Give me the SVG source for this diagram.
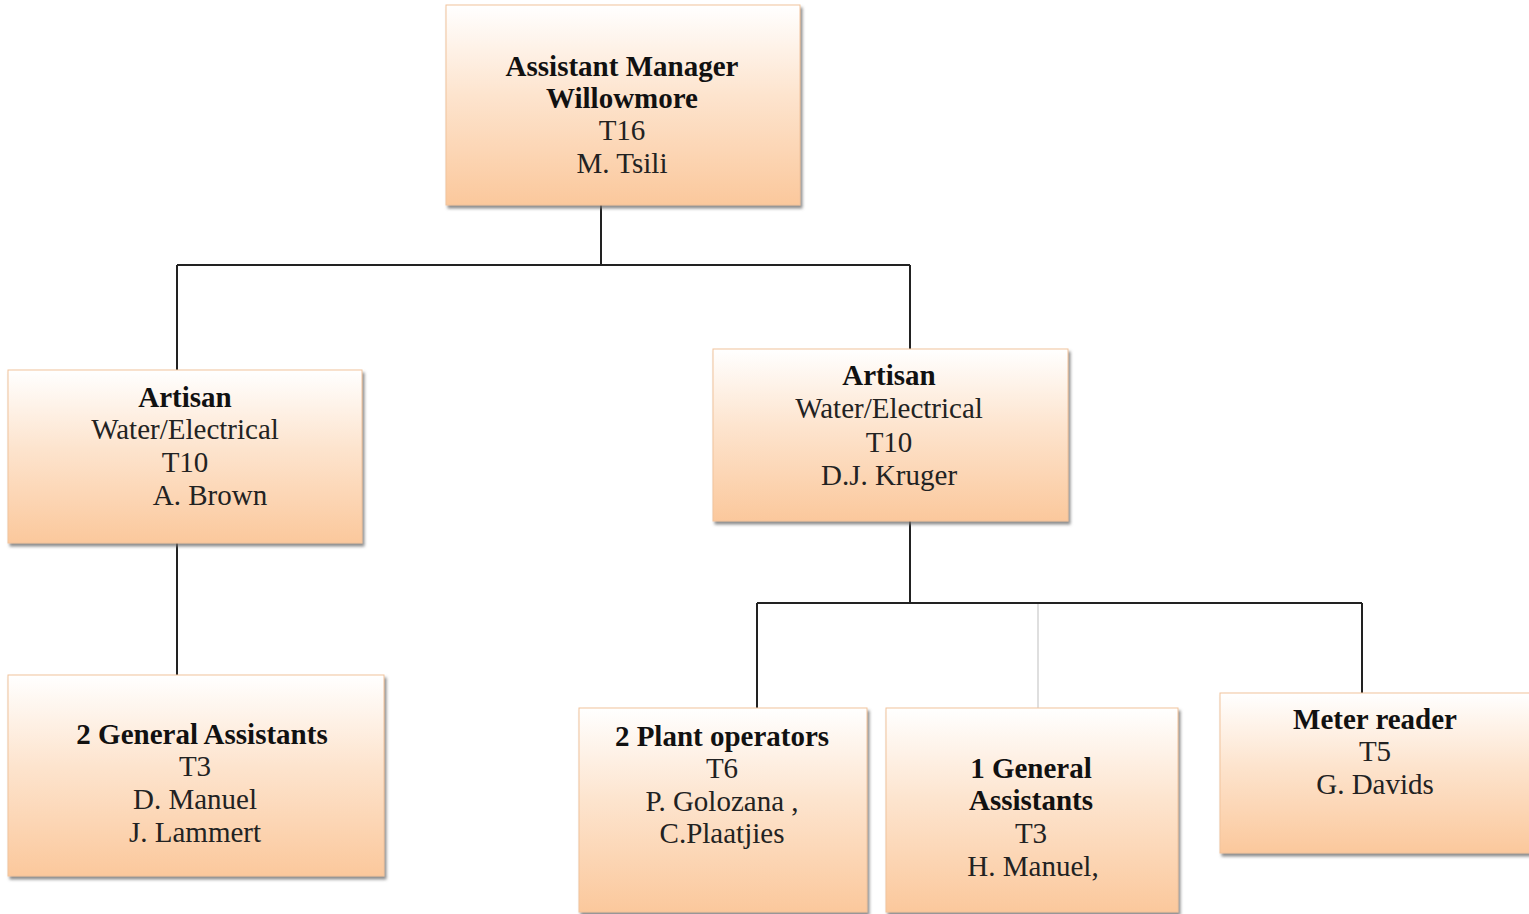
<svg xmlns="http://www.w3.org/2000/svg" width="1529" height="914" viewBox="0 0 1529 914">
  <defs>
    <linearGradient id="peach" x1="0" y1="0" x2="0" y2="1">
      <stop offset="0" stop-color="#ffffff"/>
      <stop offset="0.45" stop-color="#fde4ce"/>
      <stop offset="1" stop-color="#fbc89c"/>
    </linearGradient>
    <filter id="shadow" x="-5%" y="-5%" width="112%" height="115%">
      <feDropShadow dx="2" dy="3" stdDeviation="1.5" flood-color="#6f6f6f" flood-opacity="0.8"/>
    </filter>
  </defs>
  <style>
    .box { fill: url(#peach); stroke: #f1c39c; stroke-width: 1; filter: url(#shadow); }
    .t { font-family: "Liberation Serif", "Times New Roman", serif; font-size: 29px; fill: #222; text-anchor: middle; }
    .b { font-weight: bold; fill: #111; }
    .line { stroke: #222; stroke-width: 2; fill: none; }
    .faint { stroke: #d4d4d4; stroke-width: 1.5; fill: none; }
  </style>
  <rect width="1529" height="914" fill="#ffffff"/>

  <!-- reporting lines -->
  <g id="connectors">
    <path class="line" d="M601 205 V265 M177 265 H910 M177 265 V370 M910 265 V349"/>
    <path class="line" d="M177 543 V675"/>
    <path class="line" d="M910 521 V603 M757 603 H1362 M757 603 V708 M1362 603 V693"/>
    <path class="faint" d="M1038 604 V708"/>
  </g>

  <g id="assistant-manager">
    <rect class="box" x="446" y="5" width="354" height="200"/>
    <text class="t b" x="622" y="76">Assistant Manager</text>
    <text class="t b" x="622" y="108">Willowmore</text>
    <text class="t" x="622" y="140">T16</text>
    <text class="t" x="622" y="173">M. Tsili</text>
  </g>

  <g id="artisan-brown">
    <rect class="box" x="8" y="370" width="354" height="173"/>
    <text class="t b" x="185" y="407">Artisan</text>
    <text class="t" x="185" y="439">Water/Electrical</text>
    <text class="t" x="185" y="472">T10</text>
    <text class="t" x="210" y="505">A. Brown</text>
  </g>

  <g id="artisan-kruger">
    <rect class="box" x="713" y="349" width="355" height="172"/>
    <text class="t b" x="889" y="385">Artisan</text>
    <text class="t" x="889" y="418">Water/Electrical</text>
    <text class="t" x="889" y="452">T10</text>
    <text class="t" x="889" y="485">D.J. Kruger</text>
  </g>

  <g id="general-assistants-2">
    <rect class="box" x="8" y="675" width="376" height="201"/>
    <text class="t b" x="202" y="744">2 General Assistants</text>
    <text class="t" x="195" y="776">T3</text>
    <text class="t" x="195" y="809">D. Manuel</text>
    <text class="t" x="195" y="842">J. Lammert</text>
  </g>

  <g id="plant-operators">
    <rect class="box" x="579" y="708" width="288" height="204"/>
    <text class="t b" x="722" y="746">2 Plant operators</text>
    <text class="t" x="722" y="778">T6</text>
    <text class="t" x="722" y="811">P. Golozana ,</text>
    <text class="t" x="722" y="843">C.Plaatjies</text>
  </g>

  <g id="general-assistant-1">
    <rect class="box" x="886" y="708" width="292" height="204"/>
    <text class="t b" x="1031" y="778">1 General</text>
    <text class="t b" x="1031" y="810">Assistants</text>
    <text class="t" x="1031" y="843">T3</text>
    <text class="t" x="1033" y="876">H. Manuel,</text>
  </g>

  <g id="meter-reader">
    <rect class="box" x="1220" y="693" width="312" height="160"/>
    <text class="t b" x="1375" y="729">Meter reader</text>
    <text class="t" x="1375" y="761">T5</text>
    <text class="t" x="1375" y="794">G. Davids</text>
  </g>
</svg>
